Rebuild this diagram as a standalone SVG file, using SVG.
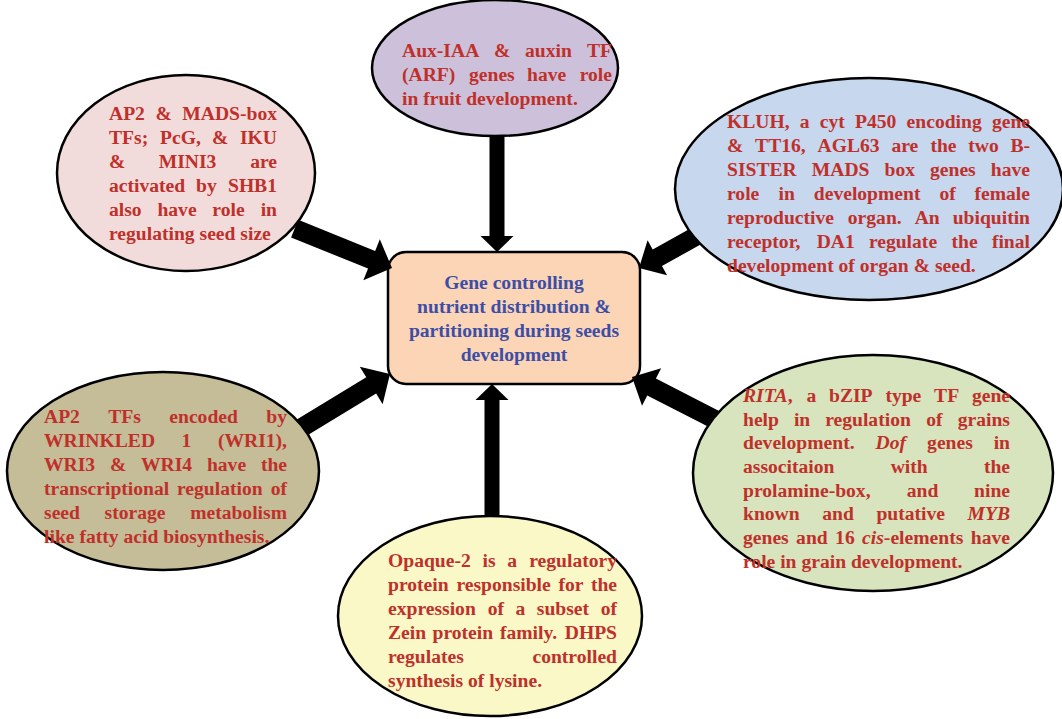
<svg xmlns="http://www.w3.org/2000/svg" width="1062" height="719" viewBox="0 0 1062 719">
<style>
.node{stroke:#000;stroke-width:2.5}
.t{font-family:"Liberation Serif","Times New Roman",serif;font-weight:bold;font-size:19.6px;fill:#c0302b}
.c{font-family:"Liberation Serif","Times New Roman",serif;font-weight:bold;font-size:19.6px;fill:#3d4ea6;text-anchor:middle}
.arr{fill:#000}
.it{font-style:italic}
.e{text-anchor:end}
</style>
<rect width="1062" height="719" fill="#fff"/>
<g id="center">
<rect class="node" x="388" y="252" width="252" height="132" rx="18" fill="#fbd5b5"/>
<text class="c"><tspan x="514" y="289">Gene controlling</tspan><tspan x="514" y="313">nutrient distribution &amp;</tspan><tspan x="514" y="337">partitioning during seeds</tspan><tspan x="514" y="361">development</tspan></text>
</g>
<g id="connectors">
<path class="arr" transform="translate(392,268) rotate(22)" d="M0,0 L-22,-22 L-22,-9.5 L-105,-9.5 L-105,9.5 L-22,9.5 L-22,22 Z"/>
<path class="arr" transform="translate(639,268) rotate(150.8)" d="M0,0 L-21,-20 L-21,-9.5 L-77,-9.5 L-77,9.5 L-21,9.5 L-21,20 Z"/>
<path class="arr" transform="translate(390,374) rotate(-31.3)" d="M0,0 L-22,-22 L-22,-9.5 L-123,-9.5 L-123,9.5 L-22,9.5 L-22,22 Z"/>
<path class="arr" transform="translate(632,377) rotate(207.1)" d="M0,0 L-22,-21 L-22,-9.5 L-105,-9.5 L-105,9.5 L-22,9.5 L-22,21 Z"/>
<path class="arr" transform="translate(497,252) rotate(90)" d="M0,0 L-16,-16.5 L-16,-7.5 L-132,-7.5 L-132,7.5 L-16,7.5 L-16,16.5 Z"/>
<path class="arr" transform="translate(492,384) rotate(-90)" d="M0,0 L-16,-16.5 L-16,-7.5 L-145,-7.5 L-145,7.5 L-16,7.5 L-16,16.5 Z"/>
</g>
<g id="top">
<ellipse class="node" cx="495" cy="68" rx="123" ry="68" fill="#ccc0da"/>
<text class="t" y="57"><tspan x="402">Aux-IAA</tspan><tspan x="494">&amp;</tspan><tspan x="525">auxin</tspan><tspan x="612" class="e">TF</tspan></text>
<text class="t" y="81"><tspan x="402">(ARF)</tspan><tspan x="469">genes</tspan><tspan x="527">have</tspan><tspan x="612" class="e">role</tspan></text>
<text class="t" x="402" y="105">in fruit development.</text>
</g>
<g id="topleft">
<ellipse class="node" cx="186" cy="173" rx="129" ry="98" fill="#f2dcdb"/>
<text class="t" y="120"><tspan x="109">AP2</tspan><tspan x="155.5">&amp;</tspan><tspan x="277" class="e">MADS-box</tspan></text>
<text class="t" y="144"><tspan x="109">TFs;</tspan><tspan x="160">PcG,</tspan><tspan x="212">&amp;</tspan><tspan x="277" class="e">IKU</tspan></text>
<text class="t" y="168"><tspan x="109">&amp;</tspan><tspan x="158.7">MINI3</tspan><tspan x="277" class="e">are</tspan></text>
<text class="t" y="192"><tspan x="109">activated</tspan><tspan x="196">by</tspan><tspan x="277" class="e">SHB1</tspan></text>
<text class="t" y="216"><tspan x="109">also</tspan><tspan x="157.4">have</tspan><tspan x="212.3">role</tspan><tspan x="277" class="e">in</tspan></text>
<text class="t" x="109" y="240">regulating seed size</text>
</g>
<g id="topright">
<ellipse class="node" cx="869" cy="189" rx="194" ry="111" fill="#c6d7ee"/>
<text class="t" y="128"><tspan x="727">KLUH,</tspan><tspan x="799.8">a</tspan><tspan x="819.8">cyt</tspan><tspan x="855">P450</tspan><tspan x="906.6">encoding</tspan><tspan x="1030" class="e">gene</tspan></text>
<text class="t" y="152"><tspan x="727">&amp;</tspan><tspan x="755.1">TT16,</tspan><tspan x="817.5">AGL63</tspan><tspan x="891.4">are</tspan><tspan x="930.4">the</tspan><tspan x="968.3">two</tspan><tspan x="1030" class="e">B-</tspan></text>
<text class="t" y="176"><tspan x="727">SISTER</tspan><tspan x="811.8">MADS</tspan><tspan x="884.5">box</tspan><tspan x="930">genes</tspan><tspan x="1030" class="e">have</tspan></text>
<text class="t" y="200"><tspan x="727">role</tspan><tspan x="778.6">in</tspan><tspan x="813.8">development</tspan><tspan x="939.4">of</tspan><tspan x="1030" class="e">female</tspan></text>
<text class="t" y="224"><tspan x="727">reproductive</tspan><tspan x="847.8">organ.</tspan><tspan x="914.7">An</tspan><tspan x="1030" class="e">ubiquitin</tspan></text>
<text class="t" y="248"><tspan x="727">receptor,</tspan><tspan x="816.7">DA1</tspan><tspan x="868.9">regulate</tspan><tspan x="951.6">the</tspan><tspan x="1030" class="e">final</tspan></text>
<text class="t" x="727" y="272">development of organ &amp; seed.</text>
</g>
<g id="bottomleft">
<ellipse class="node" cx="163" cy="471" rx="156" ry="99" fill="#c4bd97"/>
<text class="t" y="423"><tspan x="44">AP2</tspan><tspan x="108.3">TFs</tspan><tspan x="169.3">encoded</tspan><tspan x="287" class="e">by</tspan></text>
<text class="t" y="447"><tspan x="44">WRINKLED</tspan><tspan x="181.5">1</tspan><tspan x="287" class="e">(WRI1),</tspan></text>
<text class="t" y="471"><tspan x="44">WRI3</tspan><tspan x="109.9">&amp;</tspan><tspan x="141">WRI4</tspan><tspan x="206.9">have</tspan><tspan x="287" class="e">the</tspan></text>
<text class="t" y="495"><tspan x="44">transcriptional</tspan><tspan x="177">regulation</tspan><tspan x="287" class="e">of</tspan></text>
<text class="t" y="519"><tspan x="44">seed</tspan><tspan x="104.5">storage</tspan><tspan x="287" class="e">metabolism</tspan></text>
<text class="t" x="44" y="543">like fatty acid biosynthesis.</text>
</g>
<g id="bottomright">
<ellipse class="node" cx="873" cy="473" rx="180" ry="118" fill="#d7e4bd"/>
<text class="t" y="402"><tspan x="743" class="it">RITA</tspan><tspan>,</tspan><tspan x="806.4">a</tspan><tspan x="829">bZIP</tspan><tspan x="885.4">type</tspan><tspan x="934.1">TF</tspan><tspan x="1010" class="e">gene</tspan></text>
<text class="t" y="426"><tspan x="743">help</tspan><tspan x="793.9">in</tspan><tspan x="825.2">regulation</tspan><tspan x="926.2">of</tspan><tspan x="1010" class="e">grains</tspan></text>
<text class="t" y="449"><tspan x="743">development.</tspan><tspan x="875.6" class="it">Dof</tspan><tspan x="927.1">genes</tspan><tspan x="1010" class="e">in</tspan></text>
<text class="t" y="473"><tspan x="743">associtaion</tspan><tspan x="890.7">with</tspan><tspan x="1010" class="e">the</tspan></text>
<text class="t" y="497"><tspan x="743">prolamine-box,</tspan><tspan x="906.7">and</tspan><tspan x="1010" class="e">nine</tspan></text>
<text class="t" y="520"><tspan x="743">known</tspan><tspan x="822.2">and</tspan><tspan x="876.4">putative</tspan><tspan x="1010" class="e it">MYB</tspan></text>
<text class="t" y="544"><tspan x="743">genes</tspan><tspan x="796.1">and</tspan><tspan x="835.1">16</tspan><tspan x="862.1"><tspan class="it">cis</tspan>-elements</tspan><tspan x="1010" class="e">have</tspan></text>
<text class="t" x="743" y="568">role in grain development.</text>
</g>
<g id="bottom">
<ellipse class="node" cx="490" cy="616" rx="152" ry="100" fill="#faf8c6"/>
<text class="t" y="567"><tspan x="388">Opaque-2</tspan><tspan x="482.5">is</tspan><tspan x="507.3">a</tspan><tspan x="617" class="e">regulatory</tspan></text>
<text class="t" y="591"><tspan x="388">protein</tspan><tspan x="456.4">responsible</tspan><tspan x="558.5">for</tspan><tspan x="617" class="e">the</tspan></text>
<text class="t" y="615"><tspan x="388">expression</tspan><tspan x="487.7">of</tspan><tspan x="515.5">a</tspan><tspan x="536.8">subset</tspan><tspan x="617" class="e">of</tspan></text>
<text class="t" y="639"><tspan x="388">Zein</tspan><tspan x="432.5">protein</tspan><tspan x="499.9">family.</tspan><tspan x="617" class="e">DHPS</tspan></text>
<text class="t" y="663"><tspan x="388">regulates</tspan><tspan x="617" class="e">controlled</tspan></text>
<text class="t" x="388" y="687">synthesis of lysine.</text>
</g>
</svg>
